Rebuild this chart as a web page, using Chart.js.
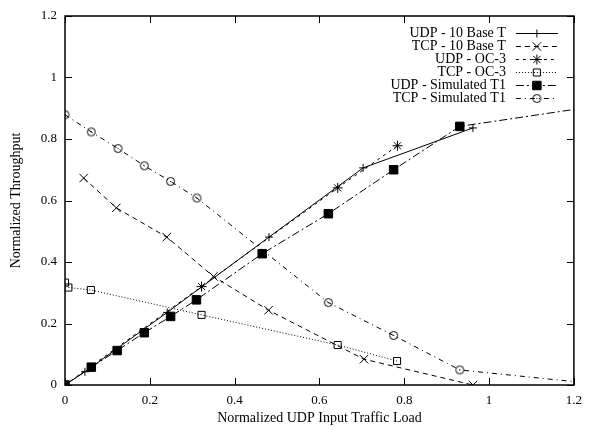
<!DOCTYPE html>
<html>
<head>
<meta charset="utf-8">
<script src="https://cdn.jsdelivr.net/npm/chart.js@4.4.1/dist/chart.umd.min.js"></script>
<style>
  body { margin: 0; background: #fff; }
  #wrap { width: 590px; height: 427px; }
</style>
</head>
<body>
<div id="wrap"><canvas id="chart" width="590" height="427"></canvas></div>
<script>
// axis ticks
const xTicks = [0, 0.2, 0.4, 0.6, 0.8, 1, 1.2];
const yTicks = [0, 0.2, 0.4, 0.6, 0.8, 1, 1.2];

// series
const udp10X = [0, 0.047, 0.241, 0.481, 0.703, 0.962];
const udp10Y = [0, 0.043, 0.236, 0.481, 0.706, 0.836];
const tcp10X = [0.044, 0.121, 0.240, 0.350, 0.480, 0.705, 0.962];
const tcp10Y = [0.673, 0.576, 0.481, 0.353, 0.243, 0.084, 0];
const udpOc3X = [0, 0.322, 0.643, 0.784];
const udpOc3Y = [0, 0.320, 0.641, 0.778];
const tcpOc3X = [0, 0.008, 0.061, 0.322, 0.643, 0.783];
const tcpOc3Y = [0.333, 0.317, 0.309, 0.228, 0.130, 0.078];
const udpT1X = [0, 0.062, 0.123, 0.187, 0.249, 0.310, 0.465, 0.621, 0.775, 0.931, 1.2];
const udpT1Y = [0, 0.058, 0.112, 0.170, 0.223, 0.277, 0.427, 0.557, 0.700, 0.841, 0.896];
const tcpT1X = [0, 0.062, 0.125, 0.187, 0.249, 0.311, 0.621, 0.775, 0.931, 1.2];
const tcpT1Y = [0.879, 0.823, 0.769, 0.713, 0.662, 0.608, 0.268, 0.161, 0.049, 0.011];

const FONT = 'Liberation Serif';

const toPts = (xs, ys) => xs.map((x, i) => ({x: x, y: ys[i]}));

// gnuplot style circle with a dot in the middle
const makeCircle = () => {
    const c = document.createElement('canvas');
    c.width = 11; c.height = 11;
    const g = c.getContext('2d');
    g.strokeStyle = '#000';
    g.lineWidth = 1;
    g.beginPath();
    g.arc(5.5, 5.5, 4, 0, Math.PI * 2);
    g.stroke();
    g.fillStyle = '#000';
    g.fillRect(5, 5, 1, 1);
    return c;
};
const circleImg = makeCircle();

// last point of the T1 lines is where the line leaves the frame, no marker there
const hideEdge = (r) => (ctx) => (ctx.raw && ctx.raw.x >= 1.2 ? 0 : r);

const series = [
    {label: 'UDP - 10 Base T', data: toPts(udp10X, udp10Y), pointStyle: 'cross', pointRadius: 4, borderDash: []},
    {label: 'TCP - 10 Base T', data: toPts(tcp10X, tcp10Y), pointStyle: 'crossRot', pointRadius: 6, borderDash: [5, 4]},
    {label: 'UDP - OC-3', data: toPts(udpOc3X, udpOc3Y), pointStyle: 'star', pointRadius: 5, borderDash: [3, 4]},
    {label: 'TCP - OC-3', data: toPts(tcpOc3X, tcpOc3Y), pointStyle: 'rect', pointRadius: 5, borderDash: [1, 2]},
    {label: 'UDP - Simulated T1', data: toPts(udpT1X, udpT1Y), pointStyle: 'rect', pointRadius: hideEdge(6), borderDash: [8, 3, 2, 3], filled: true},
    {label: 'TCP - Simulated T1', data: toPts(tcpT1X, tcpT1Y), pointStyle: circleImg, pointRadius: hideEdge(4), borderDash: [5, 4, 1, 4]}
];

const datasets = series.map((s) => ({
    label: s.label,
    data: s.data,
    showLine: true,
    borderColor: '#000',
    borderWidth: 1,
    borderDash: s.borderDash,
    pointStyle: s.pointStyle,
    pointRadius: s.pointRadius,
    pointBorderColor: '#000',
    pointBorderWidth: 1,
    pointBackgroundColor: s.filled ? '#000' : 'rgba(0,0,0,0)',
    tension: 0
}));

// frame + inward ticks on all four sides
const framePlugin = {
    id: 'frame',
    afterDraw(chart) {
        const {ctx, chartArea: a, scales} = chart;
        const len = 7;
        ctx.save();
        ctx.strokeStyle = '#000';
        ctx.lineWidth = 1;
        ctx.setLineDash([]);
        ctx.beginPath();
        xTicks.forEach((v) => {
            const px = Math.round(scales.x.getPixelForValue(v)) + 0.5;
            ctx.moveTo(px, a.bottom); ctx.lineTo(px, a.bottom - len);
            ctx.moveTo(px, a.top); ctx.lineTo(px, a.top + len);
        });
        yTicks.forEach((v) => {
            const py = Math.round(scales.y.getPixelForValue(v)) + 0.5;
            ctx.moveTo(a.left, py); ctx.lineTo(a.left + len, py);
            ctx.moveTo(a.right, py); ctx.lineTo(a.right - len, py);
        });
        ctx.stroke();
        ctx.lineWidth = 1.5;
        ctx.strokeRect(a.left, a.top, a.right - a.left, a.bottom - a.top);
        ctx.restore();
    }
};

// gnuplot-like key: text right aligned, then a line sample with its marker
const keyPlugin = {
    id: 'key',
    afterDatasetsDraw(chart) {
        const {ctx, chartArea: a} = chart;
        const textRight = a.right - 68;
        const x0 = a.right - 58, x1 = a.right - 16;
        ctx.save();
        ctx.font = '14px "' + FONT + '"';
        ctx.textAlign = 'right';
        ctx.textBaseline = 'middle';
        chart.data.datasets.forEach((ds, i) => {
            const y = a.top + 17 + i * 13;
            ctx.fillStyle = '#000';
            ctx.fillText(ds.label, textRight, y);
            ctx.strokeStyle = '#000';
            ctx.lineWidth = 1;
            ctx.setLineDash(ds.borderDash);
            ctx.beginPath();
            ctx.moveTo(x0, y + 0.5);
            ctx.lineTo(x1, y + 0.5);
            ctx.stroke();
            ctx.setLineDash([]);
            ctx.fillStyle = ds.pointBackgroundColor;
            const r = typeof ds.pointRadius === 'function' ? ds.pointRadius({raw: {x: 0}}) : ds.pointRadius;
            Chart.helpers.drawPoint(ctx, {pointStyle: ds.pointStyle, radius: r, rotation: 0, borderWidth: 1}, (x0 + x1) / 2, y + 0.5);
        });
        ctx.restore();
    }
};

const config = {
    type: 'scatter',
    data: {datasets: datasets},
    options: {
        responsive: false,
        animation: false,
        devicePixelRatio: 1,
        layout: {padding: {top: 16, right: 11, left: 0, bottom: 0}},
        plugins: {
            legend: {display: false},
            tooltip: {enabled: false}
        },
        scales: {
            x: {
                type: 'linear',
                min: 0,
                max: 1.2,
                afterBuildTicks: (scale) => { scale.ticks = xTicks.map((v) => ({value: v})); },
                afterFit: (scale) => { scale.height = 42; },
                grid: {display: false, drawTicks: false},
                border: {display: false},
                ticks: {color: '#000', font: {family: FONT, size: 13}, padding: 8, maxRotation: 0,
                    callback: (v) => String(v)},
                title: {display: true, text: 'Normalized UDP Input Traffic Load', color: '#000',
                    font: {family: FONT, size: 14}, padding: {top: 0, bottom: 0}}
            },
            y: {
                type: 'linear',
                min: 0,
                max: 1.2,
                afterBuildTicks: (scale) => { scale.ticks = yTicks.map((v) => ({value: v})); },
                afterFit: (scale) => { scale.width = 65; },
                grid: {display: false, drawTicks: false},
                border: {display: false},
                ticks: {color: '#000', font: {family: FONT, size: 13}, padding: 8,
                    callback: (v) => String(v)},
                title: {display: true, text: 'Normalized Throughput', color: '#000',
                    font: {family: FONT, size: 14}, padding: {top: 8, bottom: 0}}
            }
        }
    },
    plugins: [framePlugin, keyPlugin]
};

const myChart = new Chart(document.getElementById('chart'), config);
</script>
</body>
</html>
